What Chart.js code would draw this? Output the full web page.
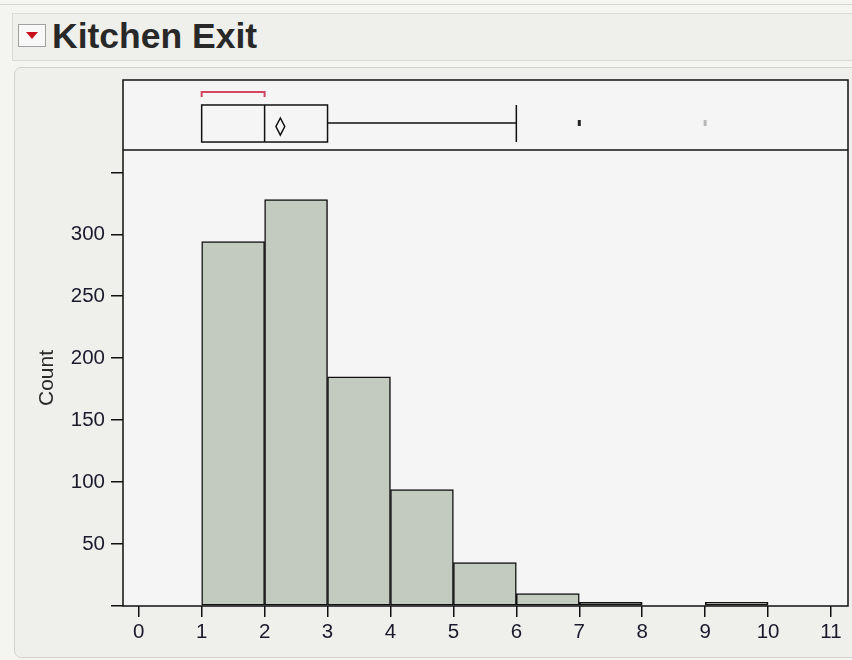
<!DOCTYPE html>
<html>
<head>
<meta charset="utf-8">
<script src="https://cdn.jsdelivr.net/npm/chart.js@4"></script>
<style>
  html, body { margin: 0; padding: 0; }
  body { width: 852px; height: 660px; background: #f4f4f1; position: relative; overflow: hidden; font-family: "Liberation Sans", Arial, sans-serif; }
  #topline { position: absolute; left: 0; top: 4px; width: 852px; height: 1px; background: #d6d6d2; }
  #titlebar { position: absolute; left: 12px; top: 13px; width: 850px; height: 46px; border: 1px solid #dadad6; background: #efefeb; }
  #menu { position: absolute; left: 18px; top: 24px; width: 26px; height: 21px; border: 1px solid #a0a0a0; background: #f8f8f8; }
  #menu::after { content: ""; position: absolute; left: 7px; top: 7px; border-left: 6px solid transparent; border-right: 6px solid transparent; border-top: 7px solid #c8101a; }
  #title { position: absolute; left: 52px; top: 16px; font-size: 35.5px; font-weight: bold; color: #282828; }
  #panel { position: absolute; left: 14px; top: 67px; width: 850px; height: 589px; border: 1px solid #d2d2ce; border-radius: 7px; background: #efefec; }
  canvas { position: absolute; left: 0; top: 0; }
</style>
</head>
<body>
<div id="topline"></div>
<div id="titlebar"></div>
<div id="menu"></div>
<div id="title">Kitchen Exit</div>
<div id="panel"></div>
<canvas id="grafico" width="852" height="660"></canvas>
<script>
// histogram bins (left edge of each bin) and counts
const binStarts = [1, 2, 3, 4, 5, 6, 7, 8, 9];
const counts = [294, 328, 185, 94, 35, 10, 3, 0, 3];
const barColors = ['#c3cbc0', '#c3cbc0', '#c3cbc0', '#c3cbc0', '#c3cbc0', '#c3cbc0', '#5b6b56', '#c3cbc0', '#c3cbc0'];

// axis ticks
const xTicks = [0, 1, 2, 3, 4, 5, 6, 7, 8, 9, 10, 11];
const yTicks = [0, 50, 100, 150, 200, 250, 300, 350];
const yLabels = ['', '50', '100', '150', '200', '250', '300', ''];

// outlier box plot summary
const quartiles = [1, 2, 3];
const whiskers = [1, 6];
const meanValue = 2.25;
const meanCI = [2.18, 2.32];
const outliers = [7, 9];
const outlierColors = ['#222222', '#b8b8b8'];
const shortestHalf = [1, 2];

const ctx = document.getElementById('grafico').getContext('2d');

const plotFrame = {
  id: 'plotFrame',
  beforeDraw(chart) {
    const a = chart.chartArea;
    const c = chart.ctx;
    c.save();
    c.fillStyle = '#f5f5f5';
    c.fillRect(a.left, a.top, a.right - a.left, a.bottom - a.top);
    c.restore();
  },
  afterDraw(chart) {
    const a = chart.chartArea;
    const c = chart.ctx;
    const divider = chart.scales.y.top;
    c.save();
    c.strokeStyle = '#111';
    c.lineWidth = 1.5;
    c.strokeRect(a.left, a.top, a.right - a.left, a.bottom - a.top);
    c.beginPath();
    c.moveTo(a.left, divider);
    c.lineTo(a.right, divider);
    c.stroke();
    c.restore();
  }
};

const boxPlot = {
  id: 'boxPlot',
  afterDatasetsDraw(chart) {
    const x = chart.scales.x, yb = chart.scales.yBox;
    const c = chart.ctx;
    const px = v => x.getPixelForValue(v);
    const py = v => yb.getPixelForValue(v);
    c.save();
    c.strokeStyle = '#111';
    c.lineWidth = 1.5;
    // box
    const top = py(0.643), bot = py(0.114), mid = py(0.386);
    c.strokeRect(px(quartiles[0]), top, px(quartiles[2]) - px(quartiles[0]), bot - top);
    c.beginPath();
    c.moveTo(px(quartiles[1]), top); c.lineTo(px(quartiles[1]), bot);
    // whiskers
    c.moveTo(px(quartiles[2]), mid); c.lineTo(px(whiskers[1]), mid);
    c.moveTo(px(whiskers[1]), top); c.lineTo(px(whiskers[1]), bot);
    c.moveTo(px(quartiles[0]), mid); c.lineTo(px(whiskers[0]), mid);
    c.stroke();
    // mean diamond
    const dTop = py(0.457), dBot = py(0.214), dMid = (dTop + dBot) / 2;
    c.beginPath();
    c.moveTo(px(meanValue), dTop);
    c.lineTo(px(meanCI[1]), dMid);
    c.lineTo(px(meanValue), dBot);
    c.lineTo(px(meanCI[0]), dMid);
    c.closePath();
    c.stroke();
    // outliers
    outliers.forEach((v, i) => {
      c.fillStyle = outlierColors[i];
      c.fillRect(px(v) - 1.5, mid - 3, 3, 6);
    });
    // shortest half bracket
    const bY = py(0.829), bT = py(0.757);
    c.strokeStyle = '#d4465e';
    c.lineWidth = 2;
    c.beginPath();
    c.moveTo(px(shortestHalf[0]), bT);
    c.lineTo(px(shortestHalf[0]), bY);
    c.lineTo(px(shortestHalf[1]), bY);
    c.lineTo(px(shortestHalf[1]), bT);
    c.stroke();
    c.restore();
  }
};

const tickFont = { family: 'Liberation Sans', size: 20.5 };

new Chart(ctx, {
  type: 'bar',
  data: {
    datasets: [{
      label: 'Count',
      data: binStarts.map((s, i) => ({ x: s + 0.5, y: counts[i] })),
      backgroundColor: barColors,
      borderColor: '#111',
      borderWidth: 1.5,
      borderSkipped: false,
      barPercentage: 1,
      categoryPercentage: 1
    }]
  },
  options: {
    responsive: false,
    animation: false,
    devicePixelRatio: 1,
    layout: { padding: { left: 0, top: 80, right: 4, bottom: 14 } },
    plugins: {
      legend: { display: false },
      tooltip: { enabled: false }
    },
    scales: {
      x: {
        type: 'linear',
        min: -0.25,
        max: 11.27,
        offset: false,
        afterBuildTicks: s => { s.ticks = xTicks.map(v => ({ value: v })); },
        afterFit: s => { s.height = 40; },
        ticks: { color: '#1a1a2c', font: tickFont, padding: 3, autoSkip: false, maxRotation: 0 },
        grid: { drawOnChartArea: false, tickLength: 11, color: '#111', lineWidth: 1.5, offset: false },
        border: { display: false }
      },
      y: {
        type: 'linear',
        position: 'left',
        stack: 'v',
        stackWeight: 456,
        min: 0,
        max: 368,
        afterBuildTicks: s => { s.ticks = yTicks.map(v => ({ value: v })); },
        afterFit: s => { s.width = 123; },
        ticks: { color: '#1a1a2c', font: tickFont, padding: 6, callback: (v, i) => yLabels[i] },
        grid: { drawOnChartArea: false, tickLength: 12, color: '#111', lineWidth: 1.5 },
        border: { display: false },
        title: { display: true, text: 'Count', color: '#2a2a2a', font: { family: 'Liberation Sans', size: 21 }, padding: { top: 35, bottom: 0 } }
      },
      yBox: {
        type: 'linear',
        position: 'left',
        stack: 'v',
        stackWeight: 70,
        min: 0,
        max: 1,
        afterFit: s => { s.width = 123; },
        ticks: { display: false },
        grid: { display: false },
        border: { display: false }
      }
    }
  },
  plugins: [plotFrame, boxPlot]
});
</script>
</body>
</html>
